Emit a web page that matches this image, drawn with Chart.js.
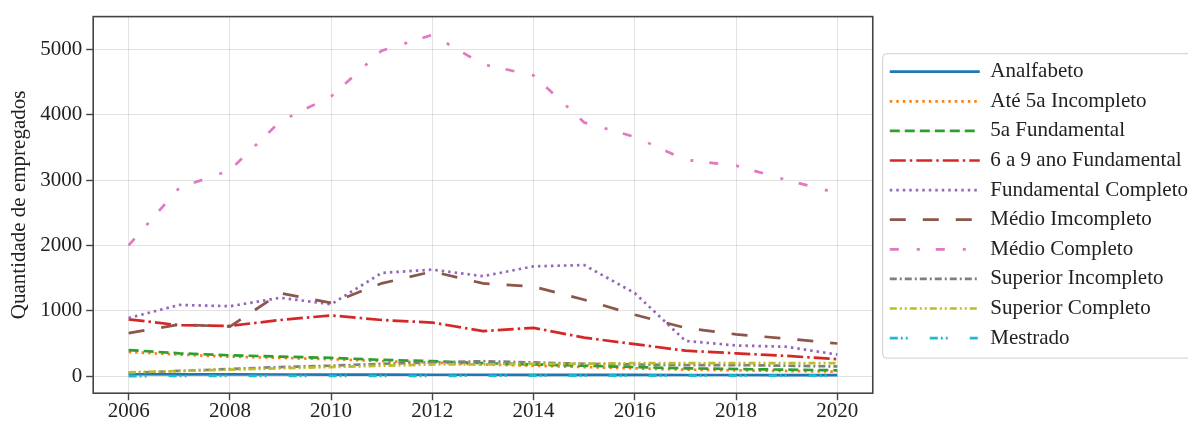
<!DOCTYPE html>
<html>
<head>
<meta charset="utf-8">
<script src="https://cdn.jsdelivr.net/npm/chart.js@4.4.1/dist/chart.umd.min.js"></script>
<style>
  html, body { margin: 0; padding: 0; background: #fff; overflow: hidden; }
  #wrap { width: 1188px; height: 423px; overflow: hidden; }
</style>
</head>
<body>
<div id="wrap"><canvas id="chart" width="1198" height="423"></canvas></div>
<script>
// Anos
const years = [2006, 2007, 2008, 2009, 2010, 2011, 2012, 2013, 2014, 2015, 2016, 2017, 2018, 2019, 2020];

// Series (quantidade de empregados por escolaridade)
const analfabeto       = [30, 28, 27, 26, 25, 24, 22, 22, 21, 20, 19, 18, 18, 17, 16];
const ate5aIncompleto  = [370, 330, 300, 280, 260, 230, 210, 180, 160, 140, 120, 100, 90, 80, 70];
const fundamental5a    = [400, 350, 320, 300, 280, 250, 230, 200, 180, 160, 140, 120, 110, 100, 90];
const fundamental6a9   = [870, 780, 770, 860, 930, 860, 820, 690, 740, 590, 490, 390, 350, 310, 260];
const fundCompleto     = [890, 1090, 1070, 1200, 1100, 1580, 1630, 1530, 1680, 1700, 1270, 540, 470, 450, 330];
const medioIncompleto  = [660, 790, 760, 1270, 1120, 1420, 1600, 1420, 1370, 1170, 940, 740, 640, 575, 500];
const medioCompleto    = [2000, 2880, 3150, 3900, 4280, 4980, 5220, 4770, 4600, 3880, 3660, 3310, 3220, 3000, 2800];
const superiorIncomp   = [50, 80, 110, 140, 160, 190, 210, 230, 210, 190, 180, 170, 170, 160, 150];
const superiorCompleto = [60, 80, 100, 120, 140, 160, 180, 180, 190, 190, 200, 200, 200, 200, 200];
const mestrado         = [2, 3, 4, 5, 5, 6, 6, 7, 8, 8, 9, 9, 10, 10, 10];

const seriesNames = ['Analfabeto', 'Até 5a Incompleto', '5a Fundamental', '6 a 9 ano Fundamental',
  'Fundamental Completo', 'Médio Imcompleto', 'Médio Completo', 'Superior Incompleto',
  'Superior Completo', 'Mestrado'];
const seriesValues = [analfabeto, ate5aIncompleto, fundamental5a, fundamental6a9, fundCompleto,
  medioIncompleto, medioCompleto, superiorIncomp, superiorCompleto, mestrado];

// ticks
const xTickValues = [2006, 2008, 2010, 2012, 2014, 2016, 2018, 2020];
const yTickValues = [0, 1000, 2000, 3000, 4000, 5000];
const xRange = [2005.3, 2020.7];
const yRange = [-260, 5500];

// estilos (cores tab10 + tracejados)
const colors = ['#1f77b4', '#ff7f0e', '#2ca02c', '#d62728', '#9467bd', '#8c564b', '#e377c2', '#7f7f7f', '#bcbd22', '#17becf'];
const dashes = [
  [],
  [2.5, 4],
  [10, 5],
  [16, 4, 2.5, 4],
  [2.5, 4],
  [16, 17],
  [9, 18, 3, 16],
  [7, 3, 2, 3],
  [7, 3, 2, 3, 2, 3],
  [8, 3, 2, 3, 2, 22]
];
const LINE_W = 2.7;

const FONT = "'Liberation Serif', 'Times New Roman', serif";
const TEXT = '#222';

const datasets = seriesNames.map((name, i) => ({
  label: name,
  data: years.map((x, j) => ({ x, y: seriesValues[i][j] })),
  borderColor: colors[i],
  backgroundColor: colors[i],
  borderDash: dashes[i],
  borderWidth: LINE_W,
  pointRadius: 0,
  fill: false,
  tension: 0,
  order: seriesNames.length - i // last series on top, like matplotlib
}));

const bgAndLegendFrame = {
  id: 'bgAndLegendFrame',
  beforeDraw(chart) {
    const ctx = chart.ctx;
    ctx.save();
    ctx.fillStyle = '#fff';
    ctx.fillRect(0, 0, chart.width, chart.height);
    const lg = chart.legend;
    if (lg && lg.legendHitBoxes && lg.legendHitBoxes.length) {
      const hb = lg.legendHitBoxes;
      const top = hb[0].top - 8;
      const bottom = hb[hb.length - 1].top + hb[hb.length - 1].height + 9;
      const left = lg.left + 1;
      ctx.strokeStyle = '#cfcfcf';
      ctx.lineWidth = 1;
      ctx.beginPath();
      ctx.roundRect(left + 0.5, top + 0.5, chart.width + 20 - left, bottom - top, 4);
      ctx.stroke();
    }
    ctx.restore();
  },
  afterDatasetsDraw(chart) {
    const a = chart.chartArea;
    const ctx = chart.ctx;
    ctx.save();
    ctx.strokeStyle = '#444';
    ctx.lineWidth = 1.6;
    ctx.strokeRect(a.left, a.top, a.right - a.left, a.bottom - a.top);
    ctx.restore();
  }
};

new Chart(document.getElementById('chart'), {
  type: 'line',
  data: { datasets },
  plugins: [bgAndLegendFrame],
  options: {
    responsive: false,
    animation: false,
    devicePixelRatio: 1,
    layout: { padding: { top: 14, left: 0, right: 0, bottom: 0 } },
    plugins: {
      tooltip: { enabled: false },
      legend: {
        position: 'right',
        fullSize: false,
        maxWidth: 400,
        labels: {
          usePointStyle: true,
          pointStyle: 'line',
          pointStyleWidth: 90,
          padding: 8.6,
          color: TEXT,
          font: { family: FONT, size: 21 },
          sort: (a, b) => a.datasetIndex - b.datasetIndex,
          generateLabels: chart => {
            const items = Chart.defaults.plugins.legend.labels.generateLabels(chart);
            items.forEach(it => {
              const ds = chart.data.datasets[it.datasetIndex];
              it.lineDash = ds.borderDash;
              it.strokeStyle = ds.borderColor;
              it.lineWidth = ds.borderWidth;
              it.lineCap = 'butt';
            });
            return items;
          }
        }
      }
    },
    scales: {
      x: {
        type: 'linear',
        min: xRange[0],
        max: xRange[1],
        border: { display: false },
        grid: { color: 'rgba(0,0,0,0.11)', lineWidth: 1, tickLength: 7, tickColor: '#444', tickWidth: 1.4 },
        afterBuildTicks: s => { s.ticks = xTickValues.map(v => ({ value: v })); },
        ticks: {
          padding: 3,
          color: TEXT,
          font: { family: FONT, size: 21, lineHeight: 0.8 },
          callback: v => String(v)
        }
      },
      y: {
        min: yRange[0],
        max: yRange[1],
        border: { display: false },
        grid: { color: 'rgba(0,0,0,0.11)', lineWidth: 1, tickLength: 7, tickColor: '#444', tickWidth: 1.4 },
        afterBuildTicks: s => { s.ticks = yTickValues.map(v => ({ value: v })); },
        ticks: {
          padding: 4,
          color: TEXT,
          font: { family: FONT, size: 21 },
          callback: v => String(v)
        },
        title: {
          display: true,
          text: 'Quantidade de empregados',
          color: TEXT,
          font: { family: FONT, size: 21 },
          padding: { top: 7, bottom: 4 }
        }
      },
      spacer: {
        type: 'linear',
        position: 'right',
        display: true,
        grid: { display: false, drawTicks: false },
        border: { display: false },
        ticks: { display: false },
        afterFit: s => { s.width = 8.4; }
      }
    }
  }
});
</script>
</body>
</html>
